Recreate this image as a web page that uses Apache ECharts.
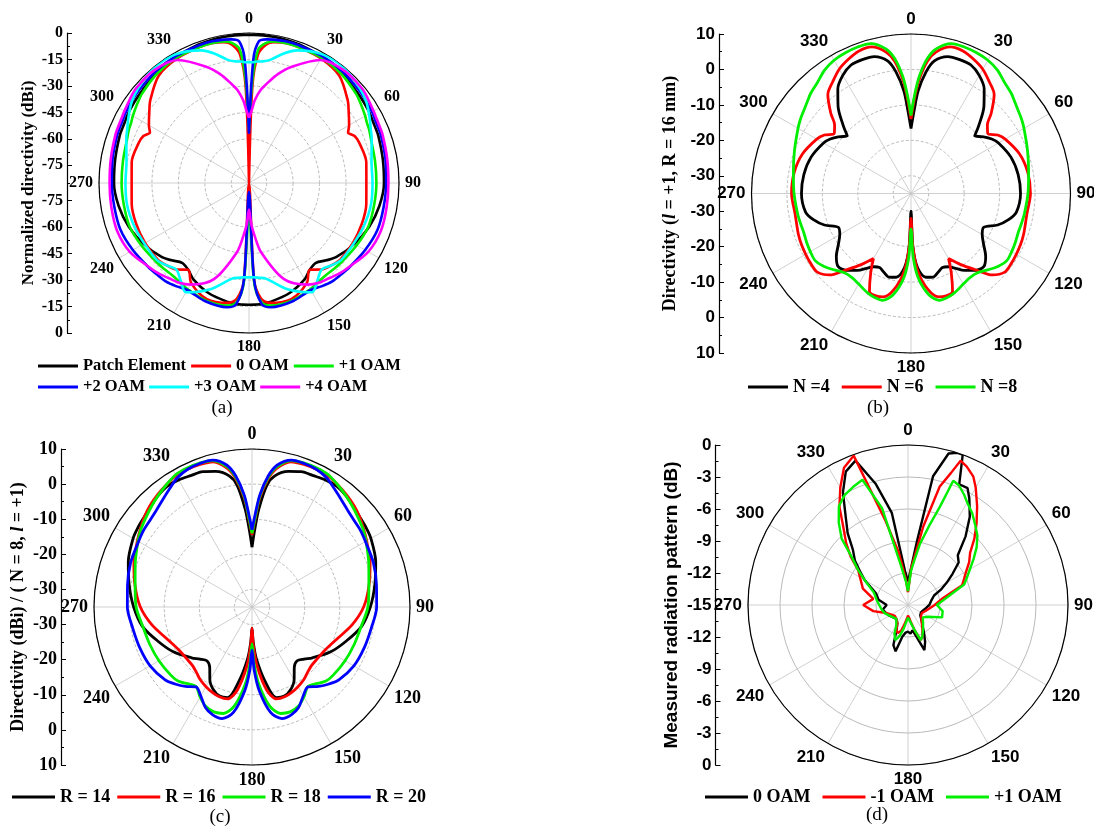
<!DOCTYPE html>
<html>
<head>
<meta charset="utf-8">
<script src="https://cdn.jsdelivr.net/npm/echarts@6/dist/echarts.min.js"></script>
<style>
html,body{margin:0;padding:0;background:#fff;}
#chart{width:1094px;height:832px;}
</style>
</head>
<body>
<div id="chart"></div>
<script>
// ---- (a) normalized directivity, dBi ----
var angA = [0,2,4,7,10,15,20,30,40,50,55,60,63,66,70,80,90,100,110,120,130,135,140,145,150,160,170,174,177,180,
            183,186,190,200,210,215,220,225,230,240,250,260,270,280,290,294,297,300,305,310,320,330,340,345,350,353,356,358,360];
var patchA = [-1,-1,-1,-1,-1,-1.2,-1.5,-2.5,-3.5,-5,-5.5,-6,-6.5,-6.8,-7,-8,-8.5,-10,-12.5,-16,-20,-23,-26,-25,-22,-18.5,-16.5,-16,-16,-16,
              -16,-16,-16.5,-18.5,-22,-25,-26,-23,-20,-16,-12.5,-10,-8.5,-8,-7,-6.8,-6.5,-6,-5.5,-5,-3.5,-2.5,-1.5,-1.2,-1,-1,-1,-1,-1];
var oam0A = [-85,-30,-12,-6,-4,-3,-3,-3.5,-5.5,-12,-16,-19.5,-22,-19.5,-18.5,-17.5,-18.5,-17.5,-17,-17,-17.5,-19,-21,-25,-19.5,-15,-16,-19,-30,-85,
             -30,-19,-16,-15,-19.5,-25,-21,-19,-17.5,-17,-17,-17.5,-18.5,-17.5,-18.5,-19.5,-22,-19.5,-16,-12,-5.5,-3.5,-3,-3,-4,-6,-12,-30,-85];
var oam1A = [-55,-25,-9,-5,-3.5,-3,-3,-3,-4,-6,-7.5,-9,-10,-10.5,-11.5,-12.5,-12.8,-13,-13,-14.5,-16,-16.5,-17,-16.5,-15.5,-14,-14.5,-17,-28,-70,
             -28,-17,-14.5,-14,-15.5,-16.5,-17,-16.5,-16,-14.5,-13,-13,-12.8,-12.5,-11.5,-10.5,-10,-9,-7.5,-6,-4,-3,-3,-3,-3.5,-5,-9,-25,-55];
var oam2A = [-57,-15,-4.5,-3,-2.5,-2,-2,-2,-2.5,-3.5,-4,-4.5,-5,-5.3,-5.5,-6.5,-7.3,-7.5,-7.5,-9,-10.7,-11.5,-12,-13.5,-15,-13.5,-13.5,-16,-30,-80,
             -30,-16,-13.5,-13.5,-15,-13.5,-12,-11.5,-10.7,-9,-7.5,-7.5,-7.3,-6.5,-5.5,-5.3,-5,-4.5,-4,-3.5,-2.5,-2,-2,-2,-2.5,-3,-4.5,-15,-57];
var oam3A = [-16.5,-16.5,-16,-15.5,-14,-9,-5,-1,-0.5,-2.5,-4,-6.5,-8,-9.5,-11,-14.5,-15,-14.8,-15.5,-16.5,-17,-19,-21,-17.5,-13.5,-21,-30,-31,-31.5,-31.5,
             -31.5,-31,-30,-21,-13.5,-17.5,-21,-19,-17,-16.5,-15.5,-14.8,-15,-14.5,-11,-9.5,-8,-6.5,-4,-2.5,-0.5,-1,-5,-9,-14,-15.5,-16,-16.5,-16.5];
var oam4A = [-48,-44,-38,-32,-28,-21,-15,-4.5,-1.5,-1.5,-2.5,-3.5,-4,-4.3,-4.5,-5.5,-6,-5.8,-5.5,-7,-11,-12.5,-14.5,-16,-18.5,-27,-45,-55,-62,-70,
             -62,-55,-45,-27,-18.5,-16,-14.5,-12.5,-11,-7,-5.5,-5.8,-6,-5.5,-4.5,-4.3,-4,-3.5,-2.5,-1.5,-1.5,-4.5,-15,-21,-28,-32,-38,-44,-48];

// ---- (b) directivity vs N ----
var angB = [0,2,4,7,10,15,20,25,30,35,40,45,48,52,56,60,70,80,90,100,105,110,115,120,125,130,135,140,145,150,153,157,161,165,170,175,178,180,
            182,185,190,195,199,203,207,210,215,220,225,230,235,240,245,250,255,260,270,280,290,300,304,308,312,315,320,325,330,335,340,345,350,353,356,358,360];
var n4B = [-16.7,-12,-6,-0.5,3,5,5.2,5,3.5,1,-3,-8,-10.8,-9,-7.5,-6.5,-5,-4.3,-4.1,-4.8,-6.5,-9,-12.4,-11.8,-10,-7.5,-5.9,-6.7,-8.5,-10.8,-11.8,-12.3,-11.5,-10.6,-11,-14,-20,-30,
           -20,-14,-11,-10.6,-11.5,-12.3,-11.8,-10.8,-8.5,-6.7,-5.9,-7.5,-10,-11.8,-12.4,-9,-6.5,-4.8,-4.1,-4.3,-5,-6.5,-7.5,-9,-10.8,-8,-3,1,3.5,5,5.2,5,3,-0.5,-6,-12,-16.7];
var n6B = [-14,-8.5,-3,2.5,5.5,7.8,7.8,6.8,5.5,3.5,1.5,-3,-6,-7.5,-5.5,-4.3,-2.4,-1.5,-1.3,-1.8,-1.6,-1.2,-0.9,-0.7,-0.5,-0.5,-2.5,-7,-10.5,-13.8,-10,-5,-4.5,-4.8,-7.5,-13,-20,-28,
           -20,-13,-7.5,-4.8,-4.5,-5,-10,-13.8,-10.5,-7,-2.5,-0.5,-0.5,-0.7,-0.9,-1.2,-1.6,-1.8,-1.3,-1.5,-2.4,-4.3,-5.5,-7.5,-6,-3,1.5,3.5,5.5,6.8,7.8,7.8,5.5,2.5,-3,-8.5,-14];
var n8B = [-13,-7.5,-2,3.5,6.5,8.8,9,8.8,8.4,7.5,6,5,4.2,3.3,2.6,1.8,0,-1.3,-2,-2.5,-2.7,-2.8,-2.5,-2.2,-2,-3,-4.5,-5.8,-6,-5.5,-5,-4.3,-3.9,-3.8,-6,-11,-17,-25,
           -17,-11,-6,-3.8,-3.9,-4.3,-5,-5.5,-6,-5.8,-4.5,-3,-2,-2.2,-2.5,-2.8,-2.7,-2.5,-2,-1.3,0,1.8,2.6,3.3,4.2,5,6,7.5,8.4,8.8,9,8.8,6.5,3.5,-2,-7.5,-13];

// ---- (c) directivity vs R ----
var angC = [0,2,4,7,10,15,20,25,30,35,40,45,50,55,60,70,80,90,100,110,120,130,135,140,145,150,155,160,165,170,175,178,180,
            182,185,190,195,200,205,210,215,220,225,230,240,250,260,270,280,290,300,305,310,315,320,325,330,335,340,345,350,353,356,358,360];
var r14C = [-18,-13,-7,0,3,5,6,6.3,6.8,7,6.5,5.7,5,4.6,4.1,2.5,0.5,-1.3,-3.3,-6.5,-9.3,-12.5,-14,-15,-14,-11,-9,-8,-8.3,-13.5,-20,-25,-29,
            -25,-20,-13.5,-8.3,-8,-9,-11,-14,-15,-14,-12.5,-9.3,-6.5,-3.3,-1.3,0.5,2.5,4.1,4.6,5,5.7,6.5,7,6.8,6.3,6,5,3,0,-7,-13,-18];
var r16C = [-14.5,-10,-4,1.5,5,7.8,8.2,8.3,8.2,7.5,6.8,6,5,3.8,2.7,0.8,-1.2,-3.2,-6,-9,-10.8,-11.3,-11.2,-10.5,-9.5,-8.8,-8.2,-7.8,-7.9,-11,-18,-24,-29,
            -24,-18,-11,-7.9,-7.8,-8.2,-8.8,-9.5,-10.5,-11.2,-11.3,-10.8,-9,-6,-3.2,-1.2,0.8,2.7,3.8,5,6,6.8,7.5,8.2,8.3,8.2,7.8,5,1.5,-4,-10,-14.5];
var r18C = [-14,-9.5,-3.5,2,5.5,8.2,8.6,8.7,8.5,7.5,6.5,5.5,4.5,3.6,2.5,0.4,-1.2,-2,-3.4,-4,-4.4,-4.8,-5.2,-6.5,-7.3,-5.4,-3.8,-3.2,-3.6,-6.5,-13,-19,-24.5,
            -19,-13,-6.5,-3.6,-3.2,-3.8,-5.4,-7.3,-6.5,-5.2,-4.8,-4.4,-4,-3.4,-2,-1.2,0.4,2.5,3.6,4.5,5.5,6.5,7.5,8.5,8.7,8.6,8.2,5.5,2,-3.5,-9.5,-14];
var r20C = [-13,-8.5,-3,2.5,6,8.3,8.5,8.3,7.5,6,4.7,3.7,3.1,2.8,2.3,1.8,1,0.5,-0.5,-1,-1.5,-2.7,-4,-5.5,-7.2,-5.8,-3.5,-2.3,-2.1,-4.5,-11,-17,-22.7,
            -17,-11,-4.5,-2.1,-2.3,-3.5,-5.8,-7.2,-5.5,-4,-2.7,-1.5,-1,-0.5,0.5,1,1.8,2.3,2.8,3.1,3.7,4.7,6,7.5,8.3,8.5,8.3,6,2.5,-3,-8.5,-13];

// ---- (d) measured pattern, dB ----
var angD = [0,5,8,11,15,18,20,23,27,30,35,40,45,50,55,60,65,70,80,90,100,110,120,130,140,150,155,160,165,170,175,180,
            185,190,195,200,205,210,220,230,240,250,260,270,280,290,300,305,310,315,320,325,330,335,340,345,350,355,360];
var oam0D = [-12.8,-11.4,-9,-2.7,-0.3,0,0,-2.7,-2.7,-3.5,-4.9,-6.6,-8.4,-8.8,-9.9,-10.8,-11.6,-12.4,-12.8,-13,-13.3,-13.5,-13.6,-13.5,-13,-12,-11.2,-10.5,-11.9,-12.6,-12.3,-12.5,
             -12.4,-12,-10.5,-11,-12.5,-13,-13.3,-13.2,-13,-12.8,-12.6,-13,-12.2,-11.8,-10.3,-9.5,-8.5,-7.7,-6.2,-4.8,-2.8,-1.2,-0.6,-3.2,-6.2,-11.8,-12.8];
var oamM1D = [-13.8,-11.5,-10.3,-7.5,-3.5,-2,-0.6,-0.9,-1.5,-2.3,-3.7,-5,-6.2,-7.4,-8,-8.7,-9.2,-9.6,-11.8,-12.5,-13,-13.3,-13.5,-13.4,-13,-12.3,-11.8,-11.5,-12.5,-13.3,-13.8,-14,
              -13.7,-13.2,-12.5,-12.2,-12.4,-13,-13.3,-13.4,-13.2,-12.8,-11.7,-10.8,-11.7,-10.5,-9.8,-9.3,-8,-6.8,-5.6,-3.8,-2.3,-0.8,-0.1,-6.8,-10,-12.5,-13.8];
var oamP1D = [-13.7,-11.8,-10.8,-9.2,-7.3,-5.3,-2.6,-2.8,-3.4,-3.9,-4.5,-5.2,-5.8,-6.6,-7.5,-8.3,-8.9,-9.4,-11.4,-12.3,-11.7,-11.6,-12.8,-13.2,-12.8,-12.2,-11.8,-11.5,-12.5,-13.2,-13.6,-13.8,
              -13.5,-12.8,-12,-11.5,-12,-12.8,-13.3,-13.2,-13,-12.7,-12.5,-12.3,-12,-11.6,-10.3,-9.3,-8.2,-6.2,-4.9,-3.7,-3.1,-2.8,-2.5,-5.6,-11.3,-12.8,-13.7];

// radial ranges, ring values and left tick labels
var rangeA = [-85, 0],  ringsA = [-75,-60,-45,-30,-15,0], ticksA = [0,-15,-30,-45,-60,-75];
var rangeB = [-35, 10], ringsB = [-30,-20,-10,0,10],      ticksB = [10,0,-10,-20,-30];
var rangeC = [-35, 10], ringsC = [-30,-20,-10,0,10],      ticksC = [10,0,-10,-20,-30];
var rangeD = [-15, 0],  ringsD = [-12,-9,-6,-3,0],        ticksD = [0,-3,-6,-9,-12,-15];

var SERIF = 'Liberation Serif', SANS = 'Liberation Sans';

var plots = [
    {center:[249,183], radius:150, range:rangeA, rings:ringsA, ticks:ticksA, font:SERIF, fs:16, dash:[3,2],
     axisX:67, axisTop:33, axisH:300, title:'Normalized directivity (dBi)', titleFont:SERIF, titleFs:17, gap:30},
    {center:[911,193.5], radius:159.5, range:rangeB, rings:ringsB, ticks:ticksB, font:SANS, fs:17, dash:[3,2],
     axisX:719, axisTop:34, axisH:319, title:'Directivity ({it|l} = +1, R = 16 mm)', titleFont:SERIF, titleFs:18, gap:40},
    {center:[252,607], radius:158, range:rangeC, rings:ringsC, ticks:ticksC, font:SERIF, fs:18, dash:[3,2],
     axisX:61, axisTop:449, axisH:316, title:'Directivity (dBi) / ( N = 8, {it|l} = +1)', titleFont:SERIF, titleFs:18, gap:34},
    {center:[908,605], radius:160, range:rangeD, rings:ringsD, ticks:ticksD, font:SANS, fs:17, dash:'solid',
     axisX:715.5, axisTop:445, axisH:320, title:'Measured radiation pattern (dB)', titleFont:SANS, titleFs:19, gap:34}
];

function line(pi, name, vals, angs, color, width, smooth) {
    return {
        type: 'line', coordinateSystem: 'polar', polarIndex: pi, name: name,
        data: vals.map(function (v, i) { return [v, angs[i]]; }),
        showSymbol: false, symbol: 'none', smooth: smooth ? 0.3 : false,
        lineStyle: {color: color, width: width}, itemStyle: {color: color},
        silent: true, animation: false
    };
}

var polar = [], angleAxis = [], radiusAxis = [], grid = [], xAxis = [], yAxis = [];
plots.forEach(function (p, i) {
    polar.push({center: p.center, radius: p.radius});
    angleAxis.push({
        polarIndex: i, type: 'value', min: 0, max: 360, interval: 30, startAngle: 90, clockwise: true,
        axisLine: {lineStyle: {color: '#000', width: 1.2}},
        axisTick: {show: false},
        axisLabel: {margin: 6, color: '#000', fontFamily: p.font, fontWeight: 'bold', fontSize: p.fs,
            formatter: function (v) { return v === 360 ? '' : String(v); }},
        splitLine: {show: true, lineStyle: {color: '#c4c4c4', width: 0.8}}
    });
    radiusAxis.push({
        polarIndex: i, type: 'value', min: p.range[0], max: p.range[1],
        axisLine: {show: false}, axisLabel: {show: false},
        axisTick: {show: false, customValues: p.rings},
        splitLine: {show: true, lineStyle: {color: '#a8a8a8', width: 0.8, type: p.dash}}
    });

    // left radial scale: signed distance from the centre, labelled in dB
    var lo = p.range[0], R = p.range[1] - p.range[0];
    var major = [];
    p.ticks.forEach(function (t) {
        var s = t - lo;
        if (s === 0) major.push(0); else { major.push(s); major.push(-s); }
    });
    major.sort(function (a, b) { return a - b; });
    var labelled = major.filter(function (s) { return !(i === 0 && s === 0); });
    var minor = [];
    for (var k = 0; k < major.length - 1; k++) minor.push((major[k] + major[k + 1]) / 2);

    grid.push({left: p.axisX, top: p.axisTop, width: 10, height: p.axisH, containLabel: false});
    xAxis.push({gridIndex: i, type: 'value', show: false});
    yAxis.push({
        gridIndex: i, type: 'value', min: -R, max: R, position: 'left',
        axisLine: {show: true, lineStyle: {color: '#000', width: 1.2}},
        axisTick: {show: true, inside: true, length: 5, customValues: labelled, lineStyle: {color: '#000', width: 1}},
        axisLabel: {customValues: labelled, margin: 4, color: '#000', fontFamily: p.font, fontWeight: 'bold', fontSize: p.fs,
            formatter: function (v) { return String(Math.round((lo + Math.abs(v)) * 10) / 10); }},
        splitLine: {show: false},
        name: p.title, nameLocation: 'middle', nameRotate: 90, nameGap: p.gap,
        nameTextStyle: {color: '#000', fontFamily: p.titleFont, fontWeight: 'bold', fontSize: p.titleFs,
            rich: {it: {fontStyle: 'italic', fontWeight: 'bold', fontFamily: p.titleFont, fontSize: p.titleFs, color: '#000'}}}
    });
    yAxis.push({
        gridIndex: i, type: 'value', min: -R, max: R, position: 'left',
        axisLine: {show: false}, axisLabel: {show: false}, splitLine: {show: false},
        axisTick: {show: true, inside: true, length: 3, customValues: minor, lineStyle: {color: '#000', width: 1}}
    });
});

var series = [
    line(0, 'a|Patch Element', patchA, angA, '#000000', 2.6, true),
    line(0, 'a|0 OAM', oam0A, angA, '#ff0000', 2.6, true),
    line(0, 'a|+1 OAM', oam1A, angA, '#00ee00', 2.6, true),
    line(0, 'a|+2 OAM', oam2A, angA, '#0000ff', 2.6, true),
    line(0, 'a|+3 OAM', oam3A, angA, '#00ffff', 2.6, true),
    line(0, 'a|+4 OAM', oam4A, angA, '#ff00ff', 2.6, true),
    line(1, 'b|N =4', n4B, angB, '#000000', 2.8, true),
    line(1, 'b|N =6', n6B, angB, '#ff0000', 2.8, true),
    line(1, 'b|N =8', n8B, angB, '#00ee00', 2.8, true),
    line(2, 'c|R = 14', r14C, angC, '#000000', 2.8, true),
    line(2, 'c|R = 16', r16C, angC, '#ff0000', 2.8, true),
    line(2, 'c|R = 18', r18C, angC, '#00ee00', 2.8, true),
    line(2, 'c|R = 20', r20C, angC, '#0000ff', 2.8, true),
    line(3, 'd|0 OAM', oam0D, angD, '#000000', 2.4, false),
    line(3, 'd|-1 OAM', oamM1D, angD, '#ff0000', 2.4, false),
    line(3, 'd|+1 OAM', oamP1D, angD, '#00ee00', 2.4, false)
];

function legendRow(names, left, top, fs, gap, w) {
    return {
        data: names, left: left, top: top, orient: 'horizontal', padding: 0,
        icon: 'rect', itemWidth: w, itemHeight: 3, itemGap: gap, selectedMode: false,
        formatter: function (n) { return n.split('|')[1]; },
        textStyle: {color: '#000', fontFamily: SERIF, fontWeight: 'bold', fontSize: fs, lineHeight: 20}
    };
}

var legend = [
    legendRow(['a|Patch Element', 'a|0 OAM', 'a|+1 OAM'], 38, 356, 16.5, 5, 40),
    legendRow(['a|+2 OAM', 'a|+3 OAM', 'a|+4 OAM'], 38, 377, 16.5, 4, 40),
    legendRow(['b|N =4', 'b|N =6', 'b|N =8'], 748, 377, 18, 12, 40),
    legendRow(['c|R = 14', 'c|R = 16', 'c|R = 18', 'c|R = 20'], 12, 787, 18, 7, 43),
    legendRow(['d|0 OAM', 'd|-1 OAM', 'd|+1 OAM'], 705, 787, 18, 12, 43)
];

function caption(text, x, y) {
    return {type: 'text', x: x, y: y, silent: true,
        style: {text: text, fill: '#000', font: '19px "Liberation Serif"', align: 'center', verticalAlign: 'middle'}};
}

var chart = echarts.init(document.getElementById('chart'), null, {renderer: 'canvas'});
chart.setOption({
    animation: false,
    backgroundColor: '#ffffff',
    polar: polar,
    angleAxis: angleAxis,
    radiusAxis: radiusAxis,
    grid: grid,
    xAxis: xAxis,
    yAxis: yAxis,
    legend: legend,
    series: series,
    graphic: [caption('(a)', 222, 408), caption('(b)', 878, 408), caption('(c)', 220, 817), caption('(d)', 877, 815)]
});
</script>
</body>
</html>
